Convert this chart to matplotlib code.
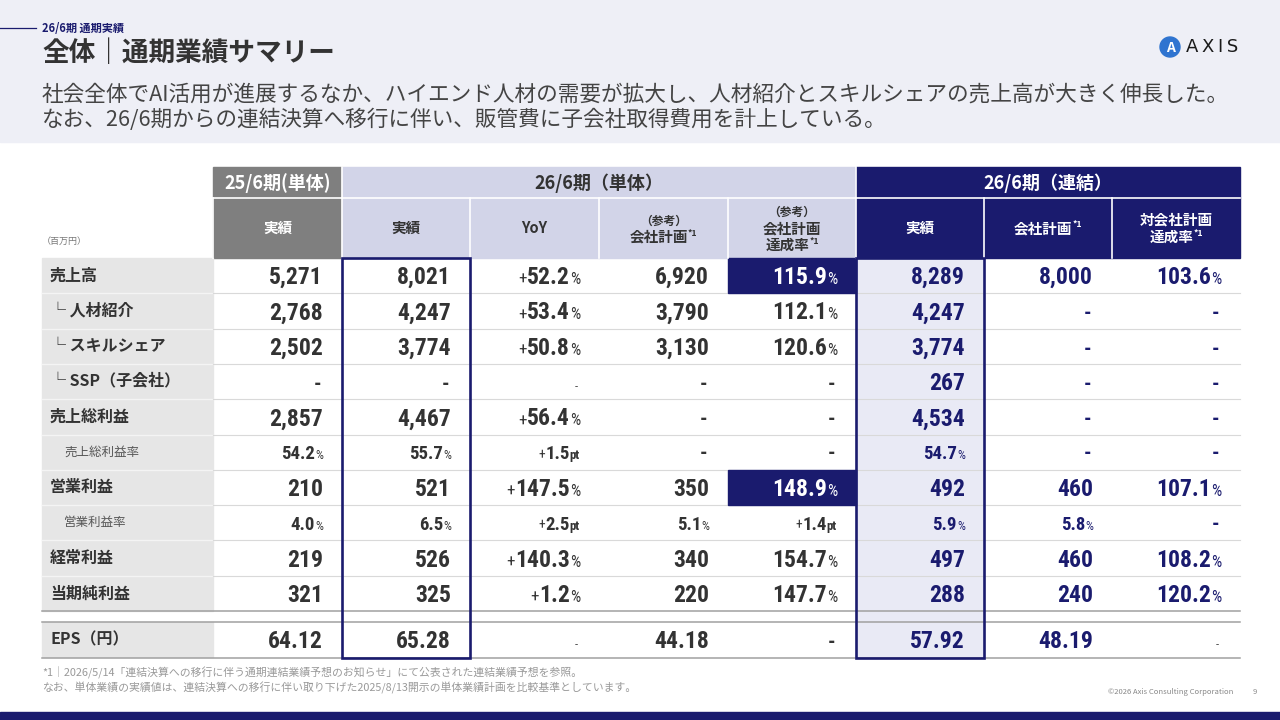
import matplotlib.pyplot as plt
from matplotlib.patches import Rectangle, Circle

plt.rcParams['font.family'] = ['Noto Sans CJK JP', 'DejaVu Sans']
NUM_FONT = ['Roboto Condensed', 'Liberation Sans Narrow', 'Noto Sans CJK JP']

NAVY = '#1A1B6E'
DARK = '#333333'

# ---- table content ----
row_labels = ["売上高", "└ 人材紹介", "└ スキルシェア", "└ SSP（子会社）", "売上総利益",
              "売上総利益率", "営業利益", "営業利益率", "経常利益", "当期純利益", "EPS（円）"]
group_titles = ["25/6期(単体)", "26/6期（単体）", "26/6期（連結）"]
col_heads = [["実績"], ["実績"], ["YoY"], ["（参考）", "会社計画*1"],
             ["（参考）", "会社計画", "達成率*1"], ["実績"], ["会社計画*1"],
             ["対会社計画", "達成率*1"]]

prev_actual = ["5,271", "2,768", "2,502", "-", "2,857", "54.2%", "210", "4.0%", "219", "321", "64.12"]
cur_actual = ["8,021", "4,247", "3,774", "-", "4,467", "55.7%", "521", "6.5%", "526", "325", "65.28"]
yoy = ["+52.2%", "+53.4%", "+50.8%", "-", "+56.4%", "+1.5pt", "+147.5%", "+2.5pt", "+140.3%", "+1.2%", "-"]
plan_single = ["6,920", "3,790", "3,130", "-", "-", "-", "350", "5.1%", "340", "220", "44.18"]
ach_single = ["115.9%", "112.1%", "120.6%", "-", "-", "-", "148.9%", "+1.4pt", "154.7%", "147.7%", "-"]
cons_actual = ["8,289", "4,247", "3,774", "267", "4,534", "54.7%", "492", "5.9%", "497", "288", "57.92"]
cons_plan = ["8,000", "-", "-", "-", "-", "-", "460", "5.8%", "460", "240", "48.19"]
cons_ach = ["103.6%", "-", "-", "-", "-", "-", "107.1%", "-", "108.2%", "120.2%", "-"]

columns = [prev_actual, cur_actual, yoy, plan_single, ach_single, cons_actual, cons_plan, cons_ach]

# ---- layout ----
edges = [42, 213, 342, 470, 599, 728, 856, 984, 1112, 1240]
row_h = 35.3
row_tops = [258 + i * row_h for i in range(10)] + [622]
sub_rows = {5, 7}
highlight = {(0, 4), (6, 4)}
light_dash = {(3, 2), (10, 2), (10, 7)}

fig = plt.figure(figsize=(12.8, 7.2), dpi=100)
ax = fig.add_axes([0, 0, 1, 1])
ax.set_xlim(0, 1280)
ax.set_ylim(720, 0)
ax.axis('off')
renderer = fig.canvas.get_renderer()


def wid(t):
    return t.get_window_extent(renderer).width


# header band
ax.add_patch(Rectangle((0, 0), 1280, 142, color='#EEEFF6', zorder=0))
ax.add_patch(Rectangle((0, 712), 1280, 8, color=NAVY, zorder=0))
ax.plot([0, 36], [28, 28], color=NAVY, lw=0.9)
ax.text(42, 28, "26/6期 通期実績", size=8, weight='bold', color=NAVY, va='center')
ax.text(42, 53, "全体｜通期業績サマリー", size=19.2, weight='bold', color=DARK, va='center')
ax.text(42, 95, "社会全体でAI活用が進展するなか、ハイエンド人材の需要が拡大し、人材紹介とスキルシェアの売上高が大きく伸長した。",
        size=15.6, color='#444444', va='center')
ax.text(42, 120, "なお、26/6期からの連結決算へ移行に伴い、販管費に子会社取得費用を計上している。",
        size=15.6, color='#444444', va='center')

# logo
ax.add_patch(Circle((1170, 47), 10, color='#2F74D0', zorder=2))
ax.text(1170, 48, "A", size=10, weight='bold', color='white', ha='center', va='center', zorder=3)
ax.text(1186, 47, "A\u2009X\u2009I\u2009S", family='DejaVu Sans', size=13, color='#1A1A1A', va='center')

# header cells
hdr_fill = ['#7F7F7F', '#D2D4E8', '#D2D4E8', '#D2D4E8', '#D2D4E8', NAVY, NAVY, NAVY]
hdr_text = ['white', DARK, DARK, DARK, DARK, 'white', 'white', 'white']
group_spans = [(0, 0), (1, 4), (5, 7)]
for title, (a, b) in zip(group_titles, group_spans):
    x0, x1 = edges[a + 1], edges[b + 2]
    ax.add_patch(Rectangle((x0, 167), x1 - x0, 31, color=hdr_fill[a], zorder=1))
    ax.text((x0 + x1) / 2, 183, title, size=13, weight='bold', color=hdr_text[a],
            ha='center', va='center', zorder=3)
for i in range(8):
    x0, x1 = edges[i + 1], edges[i + 2]
    ax.add_patch(Rectangle((x0, 198), x1 - x0, 60, color=hdr_fill[i], zorder=1))
    ax.plot([x0, x0], [198, 258], color='white', lw=1.2, zorder=2)
ax.plot([edges[1], edges[-1]], [198, 198], color='white', lw=1.2, zorder=2)
ax.plot([edges[2], edges[2]], [167, 198], color='white', lw=1.2, zorder=2)
ax.plot([edges[6], edges[6]], [167, 198], color='white', lw=1.2, zorder=2)


def centered_line(xc, yb, s, size, color, weight):
    main = s.replace('*1', '')
    t1 = ax.text(0, yb, main, size=size, color=color, weight=weight, va='baseline', zorder=3)
    w1 = wid(t1)
    w2 = 0
    if '*1' in s:
        t2 = ax.text(0, yb - size * 0.55, '*1', size=size * 0.6, color=color, weight=weight,
                     va='baseline', zorder=3)
        w2 = wid(t2)
        t2.set_x(xc - (w1 + w2) / 2 + w1)
    t1.set_x(xc - (w1 + w2) / 2)


for i, lines in enumerate(col_heads):
    xc = (edges[i + 1] + edges[i + 2]) / 2
    n = len(lines)
    for k, line in enumerate(lines):
        yb = 228 + (k - (n - 1) / 2) * 17 + 5
        sz = 8.5 if line.startswith('（') else 10.5
        centered_line(xc, yb, line, sz, hdr_text[i], 'bold')

ax.text(42, 241, "（百万円）", size=6.5, color='#777777', va='center')

# body backgrounds
for r, top in enumerate(row_tops):
    ax.add_patch(Rectangle((edges[0], top), edges[1] - edges[0], row_h, color='#E6E6E6', zorder=1))
for (r, c) in highlight:
    ax.add_patch(Rectangle((edges[c + 1], row_tops[r]), edges[c + 2] - edges[c + 1], row_h,
                           color=NAVY, zorder=1.5))
ax.add_patch(Rectangle((edges[6], 258), edges[7] - edges[6], 400, facecolor='#E9EAF5',
                       edgecolor='none', zorder=1))

# row separators
for k in range(1, 10):
    y = 258 + k * row_h
    ax.plot([edges[0], edges[1]], [y, y], color='#F4F4F4', lw=1, zorder=1.2)
    ax.plot([edges[1], edges[-1]], [y, y], color='#D9D9D9', lw=0.8, zorder=1.2)
for y in (611, 622, 658):
    ax.plot([edges[0], edges[-1]], [y, y], color='#A0A0A0', lw=1.1, zorder=1.3)

# outline boxes
for c in (1, 5):
    ax.add_patch(Rectangle((edges[c + 1], 258), edges[c + 2] - edges[c + 1], 400, fill=False,
                           edgecolor=NAVY, lw=1.9, zorder=2))


def put_value(c, r, s, color):
    size = 13.5 if r in sub_rows else 17
    x = edges[c + 2] - 19
    yb = row_tops[r] + row_h / 2 + size * 1.389 * 0.36
    if s == '-':
        if (r, c) in light_dash:
            ax.text(x - 2, yb, '-', size=9, color='#555555', ha='right', va='baseline',
                    family=NUM_FONT, zorder=3)
        else:
            ax.text(x - 2, yb, '-', size=15, color=color, weight='bold', ha='right',
                    va='baseline', family=NUM_FONT, zorder=3)
        return
    prefix = '+' if s.startswith('+') else ''
    body = s[1:] if prefix else s
    suffix = ''
    for suf in ('%', 'pt'):
        if body.endswith(suf):
            suffix = suf
            body = body[:-len(suf)]
    if suffix:
        t = ax.text(x, yb, suffix, size=size * 0.68, color=color, weight='bold' if suffix == 'pt' else 'normal',
                    ha='right', va='baseline', family=NUM_FONT, zorder=3)
        x -= wid(t)
    t = ax.text(x, yb, body, size=size, color=color, weight='bold', ha='right', va='baseline',
                family=NUM_FONT, zorder=3)
    x -= wid(t)
    if prefix:
        ax.text(x, yb, '+', size=size * 0.72, color=color, ha='right', va='baseline',
                family=NUM_FONT, zorder=3)


for r, label in enumerate(row_labels):
    yc = row_tops[r] + row_h / 2
    if r in sub_rows:
        ax.text(64, yc, label, size=9, color='#555555', va='center', zorder=3)
    else:
        ax.text(50, yc, label, size=11.5, weight='bold', color=DARK, va='center', zorder=3)
    for c, col in enumerate(columns):
        if (r, c) in highlight:
            color = 'white'
        elif c >= 5:
            color = NAVY
        else:
            color = DARK
        put_value(c, r, col[r], color)

# footnotes
ax.text(42, 673, "*1｜2026/5/14「連結決算への移行に伴う通期連結業績予想のお知らせ」にて公表された連結業績予想を参照。",
        size=7.8, color='#999999', va='center')
ax.text(42, 688, "なお、単体業績の実績値は、連結決算への移行に伴い取り下げた2025/8/13開示の単体業績計画を比較基準としています。",
        size=7.8, color='#999999', va='center')
ax.text(1233, 692, "©2026 Axis Consulting Corporation", size=5.5, color='#888888', ha='right', va='center')
ax.text(1255, 692, "9", size=5.5, color='#888888', ha='center', va='center')

fig.savefig('out.png', dpi=100)
